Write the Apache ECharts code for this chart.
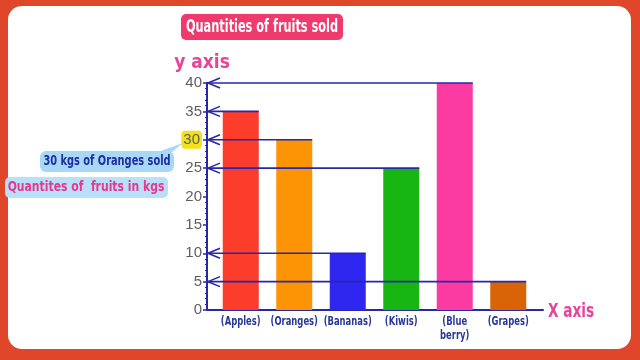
<!DOCTYPE html>
<html><head><meta charset="utf-8">
<script src="https://cdn.jsdelivr.net/npm/echarts@6/dist/echarts.min.js"></script>
<style>html,body{margin:0;padding:0;background:#e0462a}#c{width:640px;height:360px}</style>
</head><body><div id="c"></div>
<script>
const categories = ['(Apples)', '(Oranges)', '(Bananas)', '(Kiwis)', '(Blue\nberry)', '(Grapes)'];
const quantities = [35, 30, 10, 25, 40, 5];
const barColors = ['#fd3d2c', '#fd9406', '#2f27f0', '#17b613', '#fc3ba2', '#d86407'];
const highlightedTick = 30;

const FONT = '"DejaVu Sans Condensed","DejaVu Sans",sans-serif';
const LINE = '#2727aa';
const BAR_W = 36;
const AXIS_SHIFT = 7;

const chart = echarts.init(document.getElementById('c'), null, {renderer: 'canvas'});
chart.setOption({
  backgroundColor: '#e0462a',
  animation: false,
  graphic: [
    {type: 'rect', z: -10, shape: {x: 8, y: 6, width: 623, height: 343, r: 14}, style: {fill: '#ffffff'}},
    {type: 'rect', z: 5, shape: {x: 181, y: 14, width: 162, height: 26, r: 5}, style: {fill: '#f0396c'}},
    {type: 'text', z: 6, x: 262, y: 27.5, scaleX: 0.7, style: {text: 'Quantities of fruits sold', fill: '#ffffff', font: 'bold 18px ' + FONT, textAlign: 'center', textVerticalAlign: 'middle'}},
    {type: 'polygon', z: 5, shape: {points: [[158, 152], [172, 152], [183, 143]]}, style: {fill: '#a9d7f6'}},
    {type: 'rect', z: 5, shape: {x: 40, y: 151, width: 134, height: 21, r: 6}, style: {fill: '#a9d7f6'}},
    {type: 'text', z: 6, x: 107, y: 161.5, scaleX: 0.78, style: {text: '30 kgs of Oranges sold', fill: '#1d2ea6', font: 'bold 14px ' + FONT, textAlign: 'center', textVerticalAlign: 'middle'}},
    {type: 'rect', z: 5, shape: {x: 5, y: 177, width: 163, height: 21, r: 5}, style: {fill: '#b8e0fa'}},
    {type: 'text', z: 6, x: 86, y: 187.5, scaleX: 0.86, style: {text: 'Quantites of  fruits in kgs', fill: '#e8388c', font: 'bold 14px ' + FONT, textAlign: 'center', textVerticalAlign: 'middle'}},
    {type: 'text', z: 6, x: 548, y: 312, scaleX: 0.8, style: {text: 'X axis', fill: '#e8459a', font: 'bold 19px ' + FONT, textAlign: 'left', textVerticalAlign: 'middle'}}
  ],
  grid: [
    {left: 207, right: 97, top: 83, bottom: 50},
    {left: 214, right: 105, top: 83, bottom: 50}
  ],
  xAxis: [
    {gridIndex: 0, type: 'category', data: categories,
     axisLine: {show: true, lineStyle: {color: LINE, width: 2}},
     axisTick: {show: false}, axisLabel: {show: false}},
    {gridIndex: 1, type: 'category', data: categories,
     axisLine: {show: false}, axisTick: {show: false}, axisLabel: {show: false}}
  ],
  yAxis: [
    {gridIndex: 0, type: 'value', min: 0, max: 40, interval: 5,
     name: 'y axis', nameLocation: 'end', nameGap: 10,
     nameTextStyle: {color: '#e8459a', fontSize: 19, fontWeight: 'bold', fontFamily: FONT, align: 'center', padding: [0, 10, 0, 0]},
     axisLine: {show: true, lineStyle: {color: LINE, width: 2}},
     axisTick: {show: true, length: 4, lineStyle: {color: LINE, width: 1.5}},
     minorTick: {show: true, splitNumber: 5, length: 2, lineStyle: {color: LINE}},
     splitLine: {show: false},
     axisLabel: {margin: 5, color: '#5e5e5e', fontSize: 15, fontFamily: '"Liberation Sans",Arial,sans-serif',
       formatter: v => v === highlightedTick ? '{hl|' + v + '}' : String(v),
       rich: {hl: {backgroundColor: '#f3e21b', borderRadius: 4, padding: [2, 2, 1, 2], color: '#5e5e5e', fontSize: 15, fontFamily: '"Liberation Sans",Arial,sans-serif'}}}},
    {gridIndex: 1, type: 'value', min: 0, max: 40, show: false, splitLine: {show: false}}
  ],
  series: [
    {type: 'bar', xAxisIndex: 1, yAxisIndex: 1, barWidth: BAR_W, z: 2,
     data: quantities.map((v, i) => ({value: v, itemStyle: {color: barColors[i]}}))},
    {type: 'custom', xAxisIndex: 1, yAxisIndex: 1, z: 5,
     encode: {x: 0, y: 1},
     data: quantities.map((v, i) => [i, v]),
     renderItem(params, api) {
       const i = api.value(0);
       const p = api.coord([i, api.value(1)]);
       const base = api.coord([i, 0]);
       const x0 = params.coordSys.x - AXIS_SHIFT;
       const xe = p[0] + BAR_W / 2;
       return {type: 'group', children: [
         {type: 'line', shape: {x1: x0, y1: p[1], x2: xe, y2: p[1]}, style: {stroke: LINE, lineWidth: 1.6}},
         {type: 'polyline', shape: {points: [[x0 + 13, p[1] - 5], [x0 + 1, p[1]], [x0 + 13, p[1] + 5]]}, style: {stroke: LINE, fill: null, lineWidth: 1.6}},
         {type: 'text', x: base[0], y: base[1] + 5, scaleX: 0.72,
          style: {text: categories[i], fill: '#26389c', font: 'bold 13px ' + FONT, textAlign: 'center', textVerticalAlign: 'top', lineHeight: 14}}
       ]};
     }}
  ]
});
</script></body></html>
